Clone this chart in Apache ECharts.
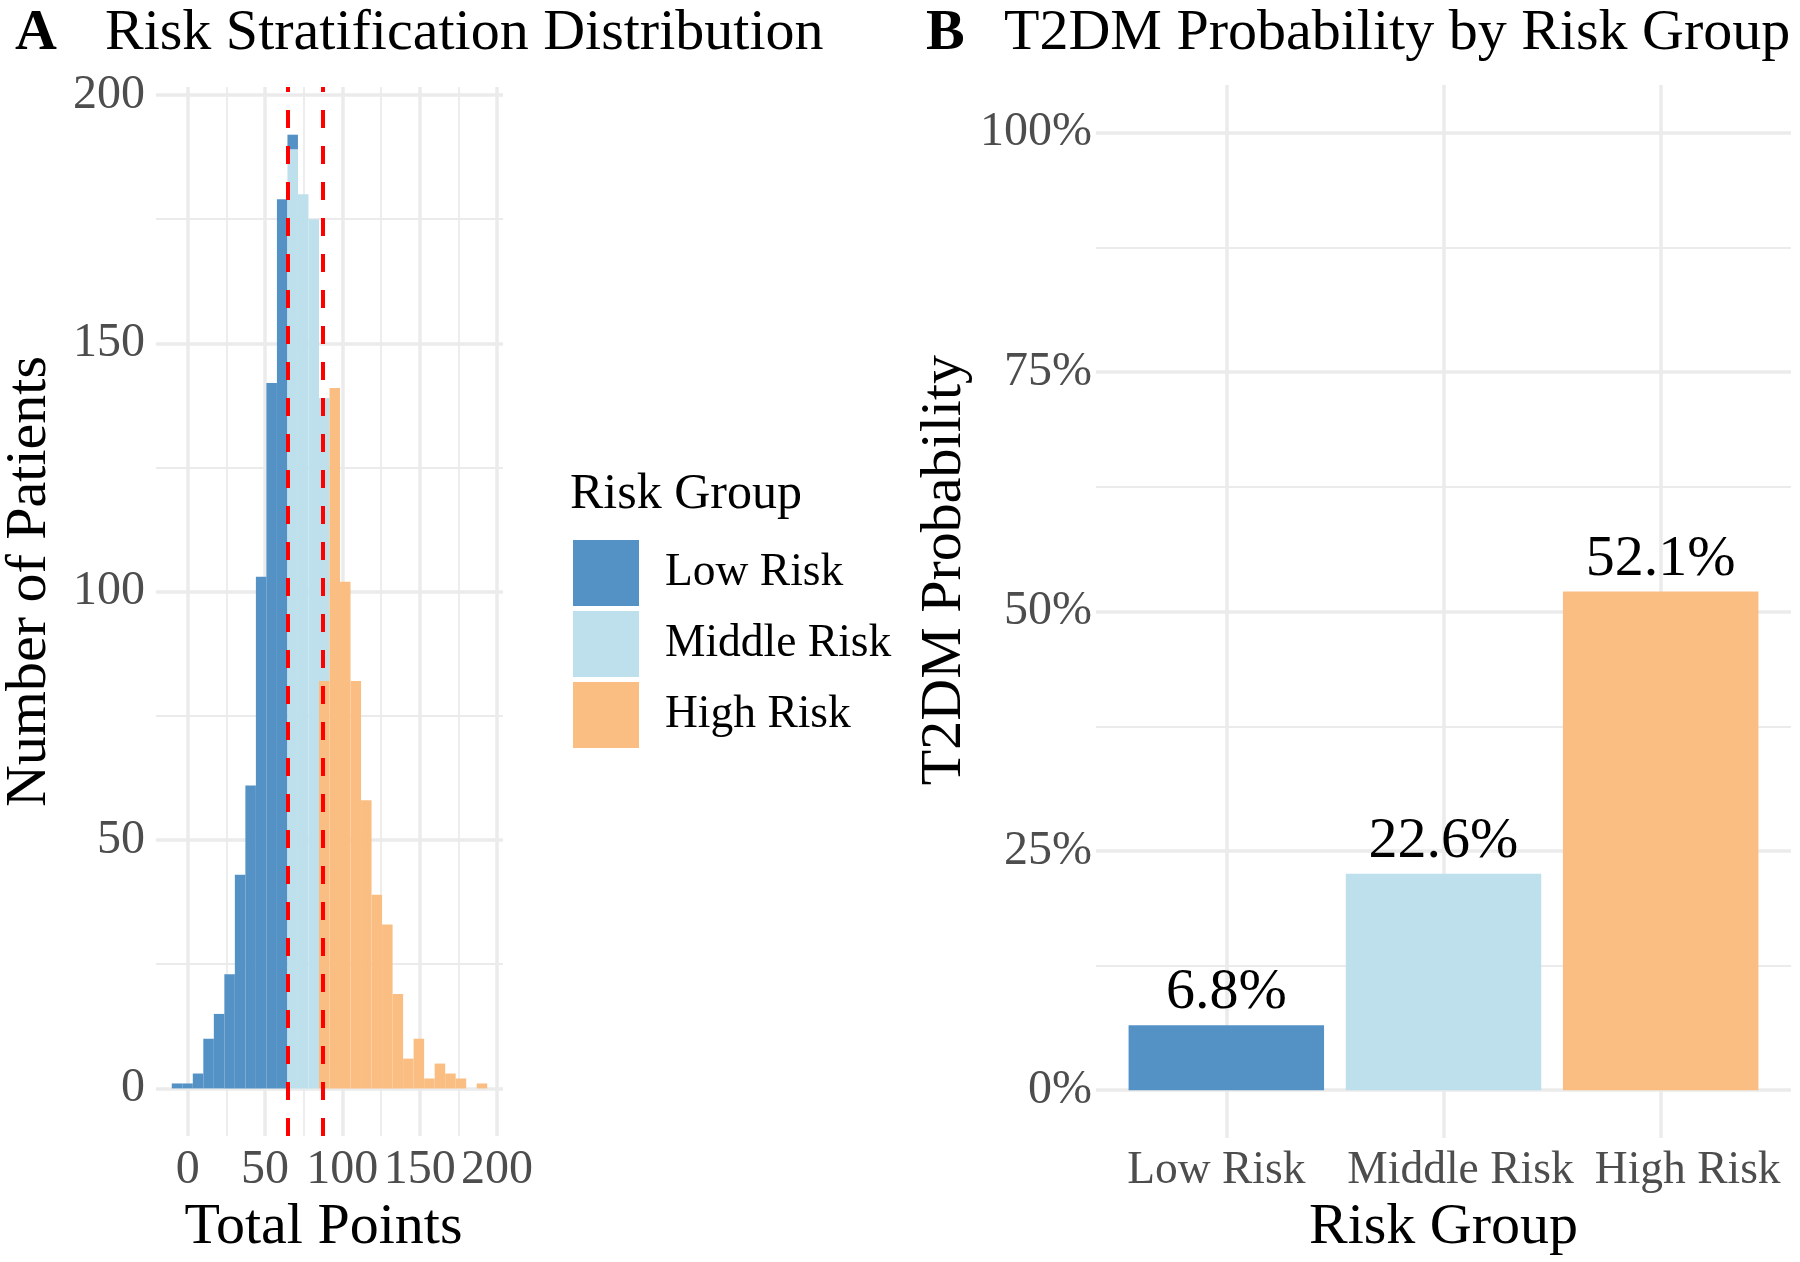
<!DOCTYPE html>
<html>
<head>
<meta charset="utf-8">
<script src="https://cdn.jsdelivr.net/npm/echarts@6/dist/echarts.min.js"></script>
<style>
  html, body { margin: 0; padding: 0; background: #fff; }
  #chart { width: 1800px; height: 1262px; }
</style>
</head>
<body>
<div id="chart"></div>
<script>
// risk groups, shared by both panels
const groups = ['Low Risk', 'Middle Risk', 'High Risk'];
const groupColors = ['#5492C6', '#BDE0EC', '#FABE82'];

// histogram of total points (30 bins), counts per group
const binStart = -10.3;
const binWidth = 6.8;
const lowCounts    = [1, 1, 3, 10, 15, 23, 43, 61, 103, 142, 179, 3, 0, 0, 0, 0, 0, 0, 0, 0, 0, 0, 0, 0, 0, 0, 0, 0, 0, 0];
const middleCounts = [0, 0, 0, 0, 0, 0, 0, 0, 0, 0, 0, 189, 180, 175, 57, 0, 0, 0, 0, 0, 0, 0, 0, 0, 0, 0, 0, 0, 0, 0];
const highCounts   = [0, 0, 0, 0, 0, 0, 0, 0, 0, 0, 0, 0, 0, 0, 82, 141, 102, 82, 58, 39, 33, 19, 6, 10, 2, 5, 3, 2, 0, 1];
const cutoffs = [65, 87.5];

// T2DM probability by group
const probValues = [0.068, 0.226, 0.521];

// ticks
const histTicks = [0, 50, 100, 150, 200];
const histMinor = [25, 75, 125, 175];
const probTicks = [0, 0.25, 0.5, 0.75, 1];
const probMinor = [0.125, 0.375, 0.625, 0.875];
const probXTicks = [1, 2, 3];

const FONT = 'Liberation Serif';
const GRID_COLOR = '#EBEBEB';

const chart = echarts.init(document.getElementById('chart'));

// stack bottom-up: High, Middle, Low (ggplot order)
const countsByGroup = [lowCounts, middleCounts, highCounts];
const stackOrder = [2, 1, 0];
const binData = [[], [], []];
for (let i = 0; i < lowCounts.length; i++) {
    let base = 0;
    const x0 = binStart + i * binWidth;
    stackOrder.forEach(g => {
        const c = countsByGroup[g][i];
        if (c > 0) {
            binData[g].push([x0, x0 + binWidth, base, base + c]);
            base += c;
        }
    });
}

function renderBin(params, api) {
    const p0 = api.coord([api.value(0), api.value(3)]);
    const p1 = api.coord([api.value(1), api.value(2)]);
    return {
        type: 'rect',
        shape: { x: p0[0], y: p0[1], width: p1[0] - p0[0], height: p1[1] - p0[1] },
        style: { fill: api.visual('color') }
    };
}

function renderProb(params, api) {
    const x = api.value(0);
    const v = api.value(1);
    const p0 = api.coord([x - 0.45, v]);
    const p1 = api.coord([x + 0.45, 0]);
    const top = api.coord([x, v]);
    return {
        type: 'group',
        children: [{
            type: 'rect',
            shape: { x: p0[0], y: p0[1], width: p1[0] - p0[0], height: p1[1] - p0[1] },
            style: { fill: groupColors[api.value(2)] }
        }, {
            type: 'text',
            x: top[0], y: top[1] - 3,
            style: {
                text: (v * 100).toFixed(1) + '%',
                fontFamily: FONT, fontSize: 58, fill: '#000',
                align: 'center', verticalAlign: 'bottom'
            }
        }]
    };
}

function gridLines(xMajor, xMinor, yMajor, yMinor) {
    const major = { color: GRID_COLOR, width: 3.5, type: 'solid' };
    const minor = { color: GRID_COLOR, width: 1.8, type: 'solid' };
    return [].concat(
        yMinor.map(v => ({ yAxis: v, lineStyle: minor })),
        xMinor.map(v => ({ xAxis: v, lineStyle: minor })),
        yMajor.map(v => ({ yAxis: v, lineStyle: major })),
        xMajor.map(v => ({ xAxis: v, lineStyle: major }))
    );
}

const tickLabel = { fontFamily: FONT, fontSize: 48, color: '#4D4D4D' };
const axisTitle = { fontFamily: FONT, fontSize: 58, color: '#000' };
const titleText = { fontFamily: FONT, fontSize: 58, color: '#000', fontWeight: 'normal' };

const maxStack = Math.max(...lowCounts.map((c, i) => c + middleCounts[i] + highCounts[i]));
const binSpan = lowCounts.length * binWidth;

const option = {
    animation: false,
    title: [
        { text: 'A', left: 10, top: 0, textStyle: Object.assign({}, titleText, { fontWeight: 'bold' }) },
        { text: 'Risk Stratification Distribution', left: 100, top: 0, textStyle: titleText },
        { text: 'B', left: 921, top: 0, textStyle: Object.assign({}, titleText, { fontWeight: 'bold' }) },
        { text: 'T2DM Probability by Risk Group', left: 999, top: 0, textStyle: titleText },
        { text: 'Risk Group', left: 565, top: 465, textStyle: { fontFamily: FONT, fontSize: 50, color: '#000', fontWeight: 'normal' } }
    ],
    legend: {
        data: groups,
        orient: 'vertical',
        left: 568, top: 535,
        itemWidth: 66, itemHeight: 66, itemGap: 5,
        icon: 'rect',
        selectedMode: false,
        textStyle: { fontFamily: FONT, fontSize: 45.5, color: '#000', padding: [0, 0, 0, 21] }
    },
    grid: [
        { left: 152, top: 87, width: 351, height: 1059 },
        { left: 1096, top: 85, width: 695, height: 1060 }
    ],
    xAxis: [{
        type: 'value', gridIndex: 0,
        min: binStart - 0.05 * binSpan,
        max: binStart + binSpan + 0.05 * binSpan,
        axisLine: { show: false }, axisTick: { show: false }, splitLine: { show: false },
        axisLabel: Object.assign({ customValues: histTicks, margin: 10 }, tickLabel),
        name: 'Total Points', nameLocation: 'middle', nameGap: 48,
        nameTextStyle: Object.assign({ padding: [0, 12, 0, 0] }, axisTitle)
    }, {
        type: 'value', gridIndex: 1,
        min: 0.4, max: 3.6,
        axisLine: { show: false }, axisTick: { show: false }, splitLine: { show: false },
        axisLabel: Object.assign({
            customValues: probXTicks, margin: 10,
            formatter: v => {
                const i = Math.round(v) - 1;
                return '{g' + i + '|' + groups[i] + '}';
            },
            rich: {
                g0: { padding: [0, 20, 0, 0] },
                g1: { padding: [0, 0, 0, 34] },
                g2: { padding: [0, 0, 0, 54] }
            }
        }, tickLabel, { fontSize: 45.5 }),
        name: 'Risk Group', nameLocation: 'middle', nameGap: 47, nameTextStyle: axisTitle
    }],
    yAxis: [{
        type: 'value', gridIndex: 0,
        min: -0.05 * maxStack, max: 1.05 * maxStack,
        axisLine: { show: false }, axisTick: { show: false }, splitLine: { show: false },
        axisLabel: Object.assign({ customValues: histTicks, margin: 11 }, tickLabel),
        name: 'Number of Patients', nameLocation: 'middle', nameGap: 97,
        nameTextStyle: Object.assign({ padding: [0, 0, 0, 60] }, axisTitle)
    }, {
        type: 'value', gridIndex: 1,
        min: -0.05, max: 1.05,
        axisLine: { show: false }, axisTick: { show: false }, splitLine: { show: false },
        axisLabel: Object.assign({
            customValues: probTicks, margin: 4,
            formatter: v => Math.round(v * 100) + '%'
        }, tickLabel),
        name: 'T2DM Probability', nameLocation: 'middle', nameGap: 122,
        nameTextStyle: Object.assign({ padding: [0, 0, 0, 83] }, axisTitle)
    }],
    series: [
        {
            type: 'line', xAxisIndex: 0, yAxisIndex: 0, data: [], z: 0, silent: true,
            markLine: { z: 0, silent: true, symbol: ['none', 'none'], label: { show: false },
                data: gridLines(histTicks, histMinor, histTicks, histMinor) }
        },
        {
            type: 'line', xAxisIndex: 1, yAxisIndex: 1, data: [], z: 0, silent: true,
            markLine: { z: 0, silent: true, symbol: ['none', 'none'], label: { show: false },
                data: gridLines(probXTicks, [], probTicks, probMinor) }
        },
        ...groups.map((g, gi) => ({
            name: g, type: 'custom', xAxisIndex: 0, yAxisIndex: 0, z: 2,
            itemStyle: { color: groupColors[gi] },
            encode: { x: [0, 1], y: [2, 3] },
            renderItem: renderBin,
            data: binData[gi]
        })),
        {
            type: 'line', xAxisIndex: 0, yAxisIndex: 0, data: [], z: 5, silent: true,
            markLine: { z: 5, silent: true, symbol: ['none', 'none'], label: { show: false },
                lineStyle: { color: '#FF0000', width: 4, type: [18, 18] },
                data: cutoffs.map(v => ({ xAxis: v })) }
        },
        {
            type: 'custom', xAxisIndex: 1, yAxisIndex: 1, z: 2,
            encode: { x: 0, y: 1 },
            renderItem: renderProb,
            data: probValues.map((v, i) => [probXTicks[i], v, i])
        }
    ]
};

chart.setOption(option);

window.addEventListener('resize', () => {
    chart.resize();
});
</script>
</body>
</html>
